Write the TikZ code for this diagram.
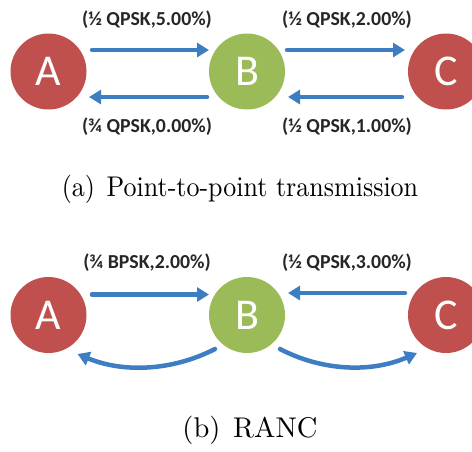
\documentclass[tikz,border=0pt]{standalone}
\usepackage{fontspec}
\newfontfamily\carlito{Carlito}
\usetikzlibrary{arrows.meta,calc}
\definecolor{nodered}{RGB}{192,80,77}
\definecolor{nodegreen}{RGB}{155,187,89}
\definecolor{arrblue}{RGB}{61,125,194}
\definecolor{labtxt}{RGB}{38,38,38}
\tikzset{
  station/.style={circle,minimum size=76pt,inner sep=0pt,text=white,font=\carlito\fontsize{44}{44}\selectfont},
  redst/.style={station,fill=nodered},
  greenst/.style={station,fill=nodegreen},
  arr/.style={draw=arrblue,line width=4.5pt,line cap=round,-{Triangle[length=12pt,width=14pt]}},
  lab/.style={text=labtxt,font=\carlito\bfseries\fontsize{19.8}{21}\selectfont,inner sep=0pt},
  capt/.style={transform shape,inner sep=0pt}
}
\begin{document}
\begin{tikzpicture}[x=1pt,y=-1pt]
\useasboundingbox (0,0) rectangle (472,451);
% (a)
\node[redst] (A1) at (48.5,71.5) {A};
\node[greenst] (B1) at (247,71.5) {B};
\node[redst] (C1) at (446,71.5) {C};
\draw[arr] ($(A1)+(43.5,-21.5)$) -- ($(B1)+(-38,-21.5)$);
\draw[arr] ($(B1)+(-40,25.5)$) -- ($(A1)+(40.5,25.5)$);
\draw[arr] ($(B1)+(40,-21.5)$) -- ($(C1)+(-41,-21.5)$);
\draw[arr] ($(C1)+(-44,25.5)$) -- ($(B1)+(41,25.5)$);
\node[lab] (l1) at (147,20) {(½ QPSK,5.00\%)};
\node[lab] (l2) at (147,127) {(¾ QPSK,0.00\%)};
\node[lab] (l3) at (347,20) {(½ QPSK,2.00\%)};
\node[lab] (l4) at (347,127) {(½ QPSK,1.00\%)};
\node[capt,xscale=2.6,yscale=2.85] (ca) at (240,189) {(a)\hspace{0.45em}Point-to-point transmission};
% (b)
\node[redst] (A2) at (48.5,315) {A};
\node[greenst] (B2) at (247,315) {B};
\node[redst] (C2) at (446,315) {C};
\draw[arr] ($(A2)+(43.5,-20.5)$) -- ($(B2)+(-38,-20.5)$);
\draw[arr] ($(C2)+(-41,-22)$) -- ($(B2)+(41,-22)$);
\draw[arr] ($(B2)+(-32,34)$) .. controls ($(B2)+(-75,56)$) and ($(A2)+(75,58)$) .. ($(A2)+(29,39)$);
\draw[arr] ($(B2)+(33,34)$) .. controls ($(B2)+(75,56)$) and ($(C2)+(-75,58)$) .. ($(C2)+(-29,38)$);
\node[lab] (l5) at (147,263) {(¾ BPSK,2.00\%)};
\node[lab] (l6) at (347,263) {(½ QPSK,3.00\%)};
\node[capt,scale=2.85] (cb) at (250,430) {(b)\hspace{0.45em}RANC};
\end{tikzpicture}
\end{document}
